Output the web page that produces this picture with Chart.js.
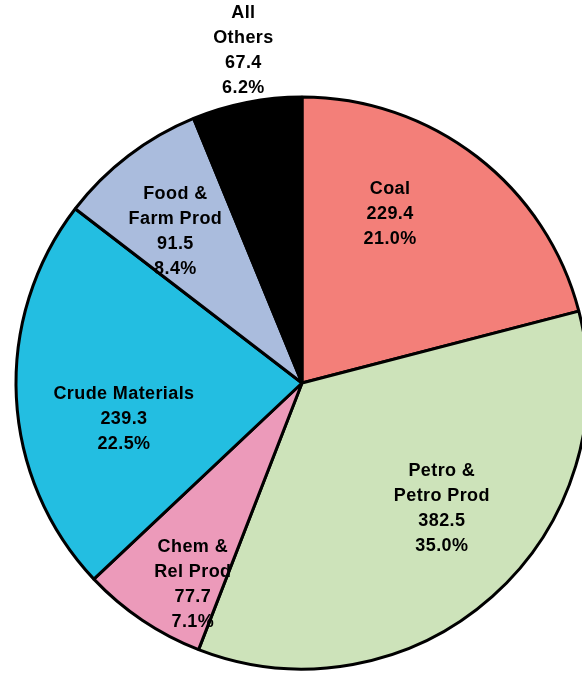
<!DOCTYPE html>
<html>
<head>
<meta charset="utf-8">
<script src="https://cdn.jsdelivr.net/npm/chart.js@4/dist/chart.umd.min.js"></script>
<style>
  html, body { margin: 0; padding: 0; background: #fff; }
  canvas { display: block; }
</style>
</head>
<body>
<canvas id="pieChart" width="582" height="673"></canvas>
<script>
// slice names (each line of the label is an entry)
const categories = [
    ['Coal'],
    ['Petro &', 'Petro Prod'],
    ['Chem &', 'Rel Prod'],
    ['Crude Materials'],
    ['Food &', 'Farm Prod'],
    ['All', 'Others']
];
const amounts = [229.4, 382.5, 77.7, 239.3, 91.5, 67.4];
const shares = [21.0, 35.0, 7.1, 22.5, 8.4, 6.2];

const sliceColors = ['#f37f79', '#cde3ba', '#ec9aba', '#23bee1', '#aabcdd', '#000000'];

// where each label block sits: angle clockwise from 12 o'clock, fraction of radius
const labelPlace = [[27.6, 0.665], [131.8, 0.656], [208.5, 0.80], [258.6, 0.635], [320.1, 0.69], [350, 1.18]];

const pieLabels = {
    id: 'pieLabels',
    afterDraw(chart) {
        const ctx = chart.ctx;
        const arc = chart.getDatasetMeta(0).data[0];
        const cx = arc.x, cy = arc.y, r = arc.outerRadius;
        const lineH = 25;
        ctx.save();
        ctx.fillStyle = '#000';
        ctx.font = 'bold 18px "Liberation Sans", Arial, sans-serif';
        ctx.letterSpacing = '0.4px';
        ctx.textAlign = 'center';
        ctx.textBaseline = 'middle';
        categories.forEach((name, i) => {
            const lines = name.concat([amounts[i].toFixed(1), shares[i].toFixed(1) + '%']);
            const a = labelPlace[i][0] * Math.PI / 180;
            const d = labelPlace[i][1] * r;
            const x = cx + Math.sin(a) * d;
            const y = cy - Math.cos(a) * d;
            const top = y - (lines.length - 1) * lineH / 2;
            lines.forEach((t, j) => ctx.fillText(t, x, top + j * lineH));
        });
        ctx.restore();
    }
};

new Chart(document.getElementById('pieChart'), {
    type: 'pie',
    data: {
        labels: categories.map(c => c.join(' ')),
        datasets: [{
            data: shares,
            backgroundColor: sliceColors,
            borderColor: '#000',
            borderWidth: 3
        }]
    },
    options: {
        responsive: false,
        animation: false,
        radius: 286,
        layout: { padding: { left: 22, right: 0, top: 93, bottom: 0 } },
        plugins: {
            legend: { display: false },
            tooltip: { enabled: false }
        }
    },
    plugins: [pieLabels]
});
</script>
</body>
</html>
